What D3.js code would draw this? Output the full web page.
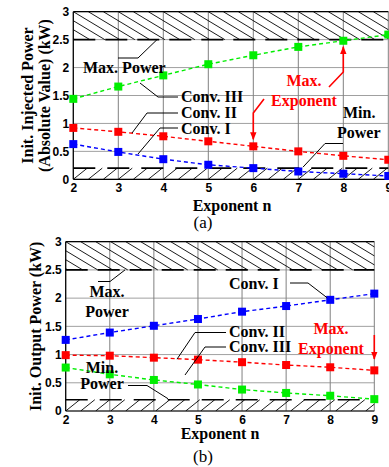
<!DOCTYPE html>
<html>
<head>
<meta charset="utf-8">
<script src="https://cdn.jsdelivr.net/npm/d3@7"></script>
<style>
  html, body { margin: 0; padding: 0; background: #fff; }
  svg { display: block; }
  .serif { font-family: "Liberation Serif", "Times New Roman", serif; font-weight: bold; }
  .tick text { font-family: "Liberation Sans", Arial, sans-serif; font-weight: bold; font-size: 12px; }
</style>
</head>
<body>
<svg id="chart" width="389" height="467"></svg>
<script>
// Exponent n on the horizontal axis
const exponents = [2, 3, 4, 5, 6, 7, 8, 9];

// (a) initial injected power, absolute value (kW)
const injectedConvI   = [0.63, 0.49, 0.36, 0.26, 0.20, 0.14, 0.10, 0.06];
const injectedConvII  = [0.92, 0.85, 0.77, 0.68, 0.59, 0.50, 0.42, 0.35];
const injectedConvIII = [1.44, 1.66, 1.86, 2.06, 2.22, 2.37, 2.48, 2.59];

// (b) initial output power (kW)
const outputConvI   = [1.26, 1.39, 1.51, 1.63, 1.76, 1.86, 1.97, 2.08];
const outputConvII  = [0.99, 0.98, 0.945, 0.91, 0.865, 0.815, 0.775, 0.72];
const outputConvIII = [0.77, 0.65, 0.55, 0.47, 0.38, 0.32, 0.27, 0.21];

// Power limits shown as hatched bands
const maxPower = 2.5;
const minPower = 0.2;

const yTicks = [0, 0.5, 1, 1.5, 2, 2.5, 3];
const yTickLabels = ["0", "0.5", "1", "1.5", "2", "2.5", "3"];
const xTickLabels = ["2", "3", "4", "5", "6", "7", "8", "9"];

const colors = { I: "#0000ff", II: "#ff0000", III: "#00ee00" };

const svg = d3.select("#chart");

const defs = svg.append("defs");
["a", "b"].forEach(id => {
  const m = defs.append("marker")
    .attr("id", "arrow-" + id)
    .attr("viewBox", "0 0 10 10")
    .attr("refX", 9).attr("refY", 5)
    .attr("markerWidth", 5).attr("markerHeight", 5)
    .attr("markerUnits", "strokeWidth")
    .attr("orient", "auto");
  m.append("path").attr("d", "M0,1 L10,5 L0,9 Z").attr("fill", "#ff0000");
});

function drawPanel(cfg) {
  const { left, top, width, height, series, id } = cfg;
  const g = svg.append("g").attr("transform", `translate(${left},${top})`);
  const x = d3.scaleLinear().domain([2, 9]).range([0, width]);
  const y = d3.scaleLinear().domain([0, 3]).range([height, 0]);

  // grid
  g.append("g").selectAll("line").data(yTicks).join("line")
    .attr("x1", 0).attr("x2", width)
    .attr("y1", d => y(d)).attr("y2", d => y(d))
    .attr("stroke", "#a0a0a0").attr("stroke-width", 1);
  g.append("g").selectAll("line").data(exponents).join("line")
    .attr("x1", d => x(d)).attr("x2", d => x(d))
    .attr("y1", 0).attr("y2", height)
    .attr("stroke", "#808080").attr("stroke-width", 1);

  // hatched bands
  const clipId = "clip-" + id;
  defs.append("clipPath").attr("id", clipId)
    .append("rect").attr("x", 0).attr("y", 0).attr("width", width).attr("height", height);
  const hatch = g.append("g").attr("clip-path", `url(#${clipId})`);
  const topBand = y(maxPower) - y(3);
  const topSlope = 0.6;
  const topLines = d3.range(-6, Math.ceil(width / 15) + 2).map(k => k * 15);
  hatch.append("g").selectAll("line").data(topLines).join("line")
    .attr("x1", d => d).attr("y1", y(3))
    .attr("x2", d => d + topBand / topSlope).attr("y2", y(maxPower))
    .attr("stroke", "#000").attr("stroke-width", 0.9);
  const botBand = y(0) - y(minPower);
  const botSlope = 0.8;
  const botLines = d3.range(-3, Math.ceil(width / 15) + 2).map(k => k * 15);
  hatch.append("g").selectAll("line").data(botLines).join("line")
    .attr("x1", d => d).attr("y1", y(0))
    .attr("x2", d => d + botBand / botSlope).attr("y2", y(minPower))
    .attr("stroke", "#000").attr("stroke-width", 0.9);

  // limit lines
  g.append("line").attr("x1", 0).attr("x2", width)
    .attr("y1", y(maxPower)).attr("y2", y(maxPower))
    .attr("stroke", "#000").attr("stroke-width", 1.6)
    .attr("stroke-dasharray", "22,10");
  g.append("line").attr("x1", 0).attr("x2", width)
    .attr("y1", y(minPower)).attr("y2", y(minPower))
    .attr("stroke", "#000").attr("stroke-width", 1.6)
    .attr("stroke-dasharray", "22,12");

  // frame
  g.append("line").attr("x1", 0).attr("x2", width).attr("y1", 0).attr("y2", 0)
    .attr("stroke", "#000").attr("stroke-width", 1.2);
  g.append("line").attr("x1", 0).attr("x2", width).attr("y1", height).attr("y2", height)
    .attr("stroke", "#000").attr("stroke-width", 1.2);
  g.append("line").attr("x1", 0).attr("x2", 0).attr("y1", 0).attr("y2", height)
    .attr("stroke", "#000").attr("stroke-width", 1.2);

  // axes
  const yAxis = d3.axisLeft(y).tickValues(yTicks)
    .tickFormat((d, i) => yTickLabels[i]).tickSize(0).tickPadding(4);
  const ya = g.append("g").call(yAxis);
  ya.select(".domain").remove();
  const xAxis = d3.axisBottom(x).tickValues(exponents)
    .tickFormat((d, i) => xTickLabels[i]).tickSize(0).tickPadding(4);
  const xa = g.append("g").attr("transform", `translate(0,${height})`).call(xAxis);
  xa.select(".domain").remove();
  g.selectAll(".tick text").attr("fill", "#000");

  // series
  series.forEach(s => {
    const pts = exponents.map((n, i) => [n, s.values[i]]);
    g.append("path").datum(pts)
      .attr("d", d3.line().x(d => x(d[0])).y(d => y(d[1])))
      .attr("fill", "none").attr("stroke", s.color)
      .attr("stroke-width", 1.4).attr("stroke-dasharray", "4,3");
    g.append("g").selectAll("rect").data(pts).join("rect")
      .attr("x", d => x(d[0]) - 4).attr("y", d => y(d[1]) - 4)
      .attr("width", 8).attr("height", 8).attr("fill", s.color);
  });

  return { g, x, y };
}

function text(g, str, xPos, yPos, opts = {}) {
  return g.append("text").attr("class", "serif")
    .attr("x", xPos).attr("y", yPos)
    .attr("font-size", opts.size || 16)
    .attr("fill", opts.color || "#000")
    .attr("text-anchor", opts.anchor || "start")
    .text(str);
}
function leader(points, color = "#000", width = 1, markerId = null) {
  const p = svg.append("path")
    .attr("d", d3.line()(points))
    .attr("fill", "none").attr("stroke", color).attr("stroke-width", width);
  if (markerId) p.attr("marker-end", `url(#${markerId})`);
  return p;
}

// ---------- Panel (a) ----------
const A = { left: 73.3, top: 11.7, width: 315, height: 167.6 };
const pa = drawPanel({
  ...A, id: "a",
  series: [
    { values: injectedConvIII, color: colors.III },
    { values: injectedConvII, color: colors.II },
    { values: injectedConvI, color: colors.I }
  ]
});
const ax = n => A.left + pa.x(n);
const ay = v => A.top + pa.y(v);

// y title
const ta = svg.append("text").attr("class", "serif").attr("font-size", 16)
  .attr("text-anchor", "middle")
  .attr("transform", `translate(33,${A.top + A.height / 2}) rotate(-90)`);
ta.append("tspan").attr("x", 0).attr("dy", 0).text("Init. Injected Power");
ta.append("tspan").attr("x", 0).attr("dy", 17).text("(Absolute Value) (kW)");

text(svg, "Exponent n", 232, 211, { anchor: "middle" });
svg.append("text").attr("x", 203).attr("y", 228)
  .attr("font-family", "Liberation Serif, Times New Roman, serif")
  .attr("font-size", 17).attr("text-anchor", "middle").text("(a)");

text(svg, "Max. Power", 83, 73);
leader([[118, 58], [138, 58], [157, ay(maxPower)]]);

text(svg, "Conv. III", 181, 102);
text(svg, "Conv. II", 181, 118);
text(svg, "Conv. I", 181, 134);
leader([[178, 97], [158, 97], [140, 83]]);
leader([[178, 113], [147, 113], [132, 133]]);
leader([[178, 128], [160, 128], [138, 154]]);

text(svg, "Min.", 343, 118);
text(svg, "Power", 337, 138);
leader([[343, 143.5], [325, 143.5], [303, ay(minPower) - 1]]);

text(svg, "Max.", 304, 86, { anchor: "middle", color: "#ff0000" });
text(svg, "Exponent", 304, 106, { anchor: "middle", color: "#ff0000" });
leader([[329, 87], [ax(8), 72], [ax(8), ay(injectedConvIII[6]) + 6]], "#ff0000", 1.6, "arrow-a");
leader([[264, 99], [ax(6), 113], [ax(6), ay(injectedConvII[4]) - 7]], "#ff0000", 1.6, "arrow-a");

// ---------- Panel (b) ----------
const B = { left: 65.7, top: 241.7, width: 308.6, height: 169.3 };
const pb = drawPanel({
  ...B, id: "b",
  series: [
    { values: outputConvIII, color: colors.III },
    { values: outputConvII, color: colors.II },
    { values: outputConvI, color: colors.I }
  ]
});
const bx = n => B.left + pb.x(n);
const by = v => B.top + pb.y(v);

svg.append("text").attr("class", "serif").attr("font-size", 16)
  .attr("text-anchor", "middle")
  .attr("transform", `translate(41,${B.top + B.height / 2}) rotate(-90)`)
  .text("Init. Output Power (kW)");

text(svg, "Exponent n", 220, 439, { anchor: "middle" });
svg.append("text").attr("x", 203).attr("y", 462)
  .attr("font-family", "Liberation Serif, Times New Roman, serif")
  .attr("font-size", 17).attr("text-anchor", "middle").text("(b)");

text(svg, "Max.", 107, 297, { anchor: "middle" });
text(svg, "Power", 107, 317, { anchor: "middle" });
leader([[98, 281.5], [110, 281.5], [125, by(maxPower)]]);

text(svg, "Min.", 102, 373, { anchor: "middle" });
text(svg, "Power", 102, 389, { anchor: "middle" });
leader([[128, 385.5], [147, 385.5], [168, by(minPower) - 1]]);

text(svg, "Conv. I", 229, 289);
leader([[290, 283], [308, 283], [bx(8) - 3, by(outputConvI[6]) - 2]]);
text(svg, "Conv. II", 229, 337);
leader([[226, 332.5], [195, 332.5], [177, by(outputConvII[3]) - 0.5]]);
text(svg, "Conv. III", 229, 352);
leader([[226, 347], [205, 347], [185, 375]]);

text(svg, "Max.", 331, 334, { anchor: "middle", color: "#ff0000" });
text(svg, "Exponent", 331, 354, { anchor: "middle", color: "#ff0000" });
leader([[bx(9), 335], [bx(9), 359]], "#ff0000", 1.6, "arrow-b");
</script>
</body>
</html>
